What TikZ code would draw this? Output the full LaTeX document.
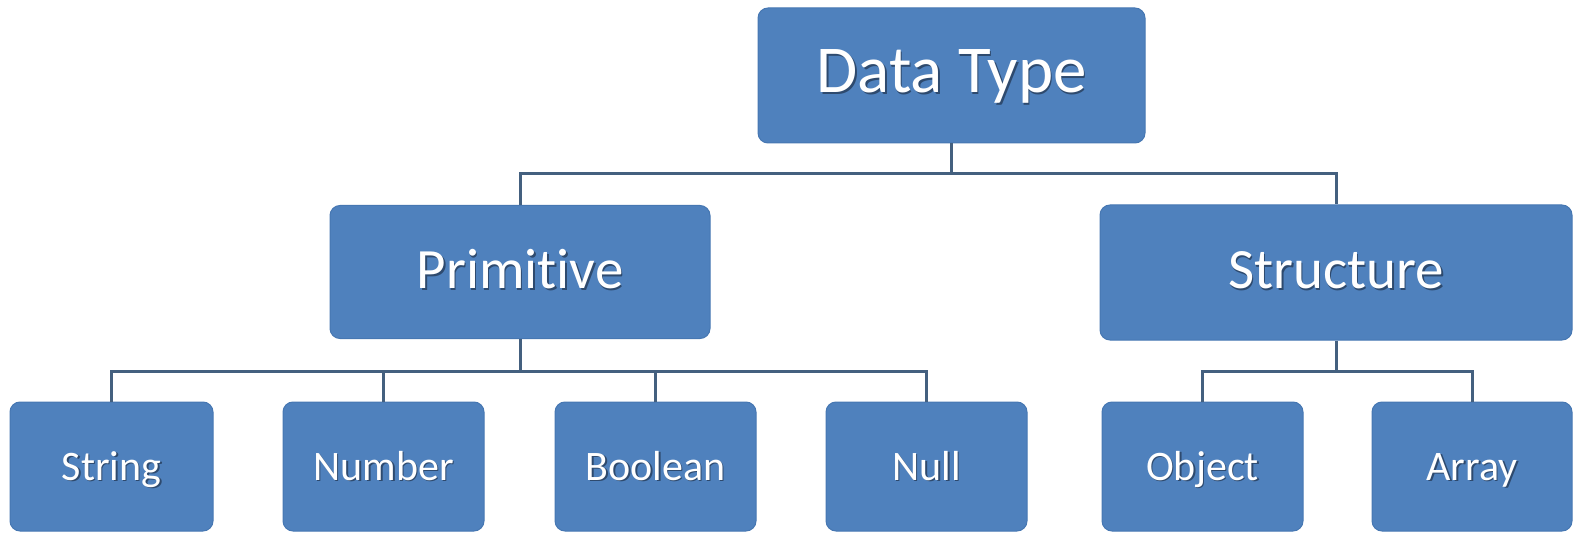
\documentclass[tikz,border=0pt]{standalone}
\usepackage{fontspec}
\setmainfont{Carlito}[RawFeature={-liga;-clig}]
\usetikzlibrary{calc}
\definecolor{boxblue}{HTML}{4F81BD}
\definecolor{boxedge}{HTML}{4677B2}
\definecolor{linkcol}{HTML}{44607F}
\definecolor{txtshadow}{HTML}{2E4A6E}
% white label with a soft drop shadow
\newcommand\shtext[1]{\makebox[0pt][l]{\hspace{1.6pt}\raisebox{-1.6pt}{\textcolor{txtshadow}{#1}}}#1}
\tikzset{
  tbox/.style={rectangle, rounded corners=10pt, fill=boxblue, draw=boxedge, line width=1pt,
    text=white, inner sep=0pt, anchor=center, text depth=0pt},
  big/.style={tbox, font=\fontsize{67}{70}\selectfont, text height=35pt},
  mid/.style={tbox, font=\fontsize{57}{62}\selectfont, text height=33pt},
  small/.style={tbox, font=\fontsize{42}{46}\selectfont, text height=27pt},
  conn/.style={draw=linkcol, line width=3pt},
}
\begin{document}
\begin{tikzpicture}[x=1pt, y=-1pt]
\useasboundingbox (0,0) rectangle (1573,534);

% top level
\node[big, minimum width=387pt, minimum height=135pt] (dt) at (951.5,75.5) {\shtext{Data Type}};

% second level
\node[mid, minimum width=380pt, minimum height=133pt] (prim) at (520,272) {\shtext{Primitive}};
\node[mid, minimum width=472pt, minimum height=135pt] (struc) at (1336,272.5) {\shtext{Structure}};

% leaves
\node[small, minimum width=203pt, minimum height=129pt] (str)  at (111.5,466.5) {\shtext{String}};
\node[small, minimum width=201pt, minimum height=129pt] (num)  at (383.5,466.5) {\shtext{Number}};
\node[small, minimum width=201pt, minimum height=129pt] (bool) at (655.5,466.5) {\shtext{Boolean}};
\node[small, minimum width=201pt, minimum height=129pt] (nul)  at (926.5,466.5) {\shtext{Null}};
\node[small, minimum width=201pt, minimum height=129pt] (obj)  at (1202.5,466.5) {\shtext{Object}};
\node[small, minimum width=200pt, minimum height=129pt] (arr)  at (1472,466.5) {\shtext{Array}};

% bus levels
\coordinate (b1) at (0,174);
\coordinate (b2) at (0,371);

% connectors
\draw[conn] (dt.south) -- (dt.south |- b1) -| (prim.north);
\draw[conn] (dt.south |- b1) -| (struc.north);

\draw[conn] (prim.south) -- (prim.south |- b2) -| (str.north);
\draw[conn] (prim.south |- b2) -| (num.north);
\draw[conn] (prim.south |- b2) -| (bool.north);
\draw[conn] (prim.south |- b2) -| (nul.north);

\draw[conn] (struc.south) -- (struc.south |- b2) -| (obj.north);
\draw[conn] (struc.south |- b2) -| (arr.north);
\end{tikzpicture}
\end{document}
